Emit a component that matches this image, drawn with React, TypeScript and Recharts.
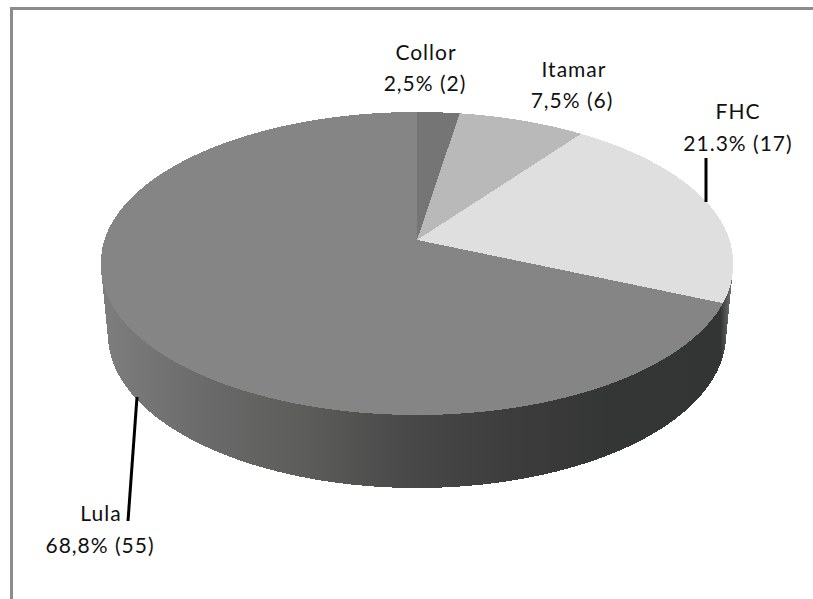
import React from "react";
import { PieChart, Pie, Cell } from "recharts";

// Presidencies and their counts
const names = ["Collor", "Itamar", "FHC", "Lula"];
const counts = [2, 6, 17, 55];
const shares = ["2,5%", "7,5%", "21.3%", "68,8%"];
const faceColors = ["#757575", "#b9b9b9", "#dfdfdf", "#858585"];

const rows = names.map((name, i) => ({ name, value: counts[i], share: shares[i] }));

const WIDTH = 813;
const HEIGHT = 599;
const CX = 417;
const CY = 262;
const RADIUS = 316;

// Tilted-disc projection: the near half of the disc is drawn a little lower than the far half
const FAR_RY = 150;
const NEAR_RY = 149;
const NEAR_CY = 266;
const APEX_SHIFT = 0.147;
const floorDisc = { rx: 309, ry: 153, cy: 335 };

// Label placement and leader lines
const labelLayout = [
  { x1: 426, x2: 425, y1: 60, y2: 91, leader: null },
  { x1: 574, x2: 572, y1: 77, y2: 108, leader: null },
  { x1: 738, x2: 738, y1: 119, y2: 151, leader: [706, 158, 706, 202] },
  { x1: 101, x2: 100, y1: 521, y2: 553, leader: [137, 397, 128, 521] },
];

// Moves a point of the unit circle so the sector apex sits behind the disc centre.
const project = (deg: number) => {
  const rad = (deg * Math.PI) / 180;
  const x = Math.cos(rad);
  const y = Math.sin(rad);
  const d = 1 + APEX_SHIFT * y;
  return { u: (x * Math.sqrt(1 - APEX_SHIFT * APEX_SHIFT)) / d, v: (y + APEX_SHIFT) / d };
};

const rimPoint = (cx: number, cy: number, r: number, deg: number) => {
  const { u, v } = project(deg);
  const y = v >= 0 ? cy - FAR_RY * v : cy + (NEAR_CY - CY) - NEAR_RY * v;
  return [cx + r * u, y];
};

const floorPoint = (cx: number, deg: number) => {
  const { u, v } = project(deg);
  return [cx + floorDisc.rx * u, floorDisc.cy - floorDisc.ry * v];
};

const sampleAngles = (start: number, end: number) => {
  const steps = Math.max(2, Math.ceil(Math.abs(end - start)));
  return Array.from({ length: steps + 1 }, (_, i) => start + ((end - start) * i) / steps);
};

const TopFace = (props: any) => {
  const { cx, cy, outerRadius, startAngle, endAngle, fill } = props;
  const apex = `${cx},${cy - FAR_RY * APEX_SHIFT}`;
  const rim = sampleAngles(startAngle, endAngle).map((a) => rimPoint(cx, cy, outerRadius, a).join(","));
  return <path d={`M${apex}L${rim.join("L")}Z`} fill={fill} stroke="none" shapeRendering="crispEdges" />;
};

// Twice the signed area of a polygon, used to give every quad the same winding.
const signedArea = (pts: number[][]) =>
  pts.reduce((sum, p, i) => {
    const q = pts[(i + 1) % pts.length];
    return sum + p[0] * q[1] - q[0] * p[1];
  }, 0);

// The wall is swept quad by quad, so it also closes the gap between the two rims at the disc's sides.
const SideWall = (props: any) => {
  const { cx, cy, outerRadius, startAngle, endAngle } = props;
  const angles = sampleAngles(startAngle, endAngle);
  let d = "";
  for (let i = 0; i < angles.length - 1; i++) {
    const quad = [
      rimPoint(cx, cy, outerRadius, angles[i]),
      rimPoint(cx, cy, outerRadius, angles[i + 1]),
      floorPoint(cx, angles[i + 1]),
      floorPoint(cx, angles[i]),
    ];
    if (signedArea(quad) < 0) quad.reverse();
    d += `M${quad.map((p) => p.join(",")).join("L")}Z`;
  }
  return <path d={d} fill="url(#wallShade)" stroke="none" shapeRendering="crispEdges" />;
};

const renderLabel = (entry: any) => {
  const i = entry.index;
  const spot = labelLayout[i];
  const row = rows[i];
  const textStyle = {
    fontFamily: "Lato, sans-serif",
    fontSize: 21,
    letterSpacing: 1,
    fill: "#111",
    textAnchor: "middle" as const,
  };
  return (
    <g key={row.name}>
      {spot.leader && (
        <line
          x1={spot.leader[0]}
          y1={spot.leader[1]}
          x2={spot.leader[2]}
          y2={spot.leader[3]}
          stroke="#000"
          strokeWidth={3}
        />
      )}
      <text x={spot.x1} y={spot.y1} style={textStyle}>
        {row.name}
      </text>
      <text x={spot.x2} y={spot.y2} style={textStyle}>
        {`${row.share} (${row.value})`}
      </text>
    </g>
  );
};

export default function App() {
  return (
    <div style={{ position: "absolute", left: 0, top: 0, width: WIDTH, height: HEIGHT, overflow: "hidden", background: "#fff" }}>
      <div style={{ position: "absolute", left: 10, top: 7, width: WIDTH, height: HEIGHT, borderLeft: "3px solid #8c8c8c", borderTop: "3px solid #8c8c8c" }} />
      <PieChart width={WIDTH} height={HEIGHT} margin={{ top: 0, right: 0, bottom: 0, left: 0 }} style={{ position: "absolute", left: 0, top: 0 }}>
        <defs>
          <linearGradient id="wallShade" gradientUnits="userSpaceOnUse" x1={107} y1={0} x2={733} y2={0}>
            <stop offset="0" stopColor="#7d7d7d" />
            <stop offset="0.16" stopColor="#6a6a6a" />
            <stop offset="0.32" stopColor="#5c5c5a" />
            <stop offset="0.48" stopColor="#494949" />
            <stop offset="0.64" stopColor="#3c3d3c" />
            <stop offset="0.8" stopColor="#343635" />
            <stop offset="0.98" stopColor="#333534" />
            <stop offset="0.995" stopColor="#6a6a6a" />
          </linearGradient>
        </defs>
        <Pie
          data={rows}
          dataKey="value"
          nameKey="name"
          cx={CX}
          cy={CY}
          innerRadius={0}
          outerRadius={RADIUS}
          startAngle={90}
          endAngle={-270}
          paddingAngle={0}
          isAnimationActive={false}
          shape={SideWall}
          label={false}
          labelLine={false}
        />
        <Pie
          data={rows}
          dataKey="value"
          nameKey="name"
          cx={CX}
          cy={CY}
          innerRadius={0}
          outerRadius={RADIUS}
          startAngle={90}
          endAngle={-270}
          paddingAngle={0}
          isAnimationActive={false}
          shape={TopFace}
          label={renderLabel}
          labelLine={false}
        >
          {rows.map((row, i) => (
            <Cell key={row.name} fill={faceColors[i]} />
          ))}
        </Pie>
      </PieChart>
    </div>
  );
}
